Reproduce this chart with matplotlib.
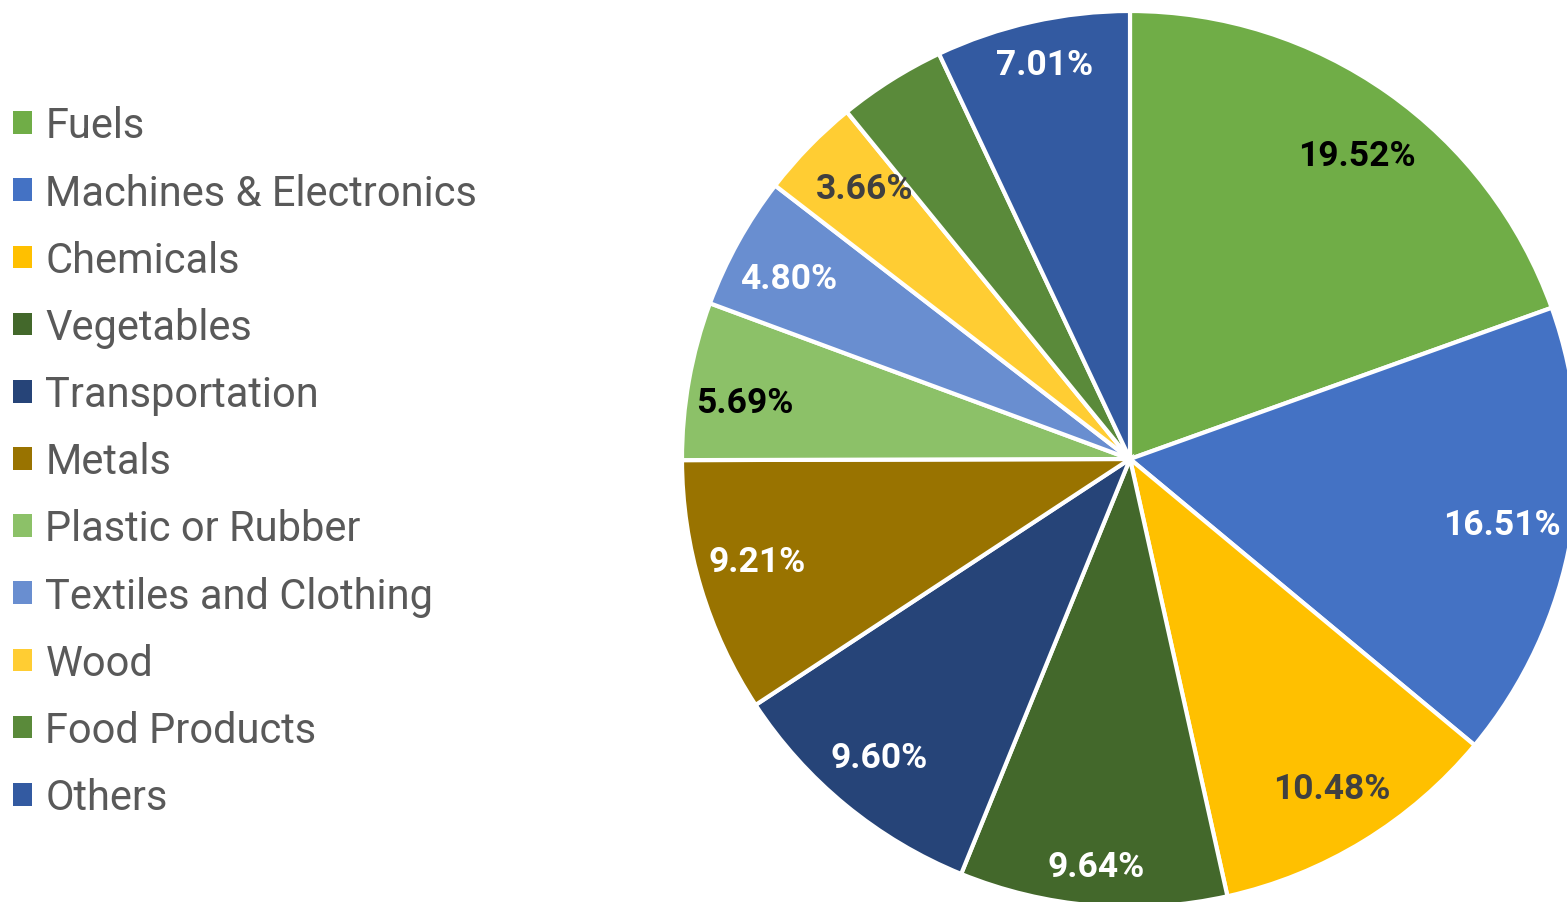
import matplotlib
matplotlib.use("Agg")
import matplotlib.pyplot as plt
import numpy as np

categories = ["Fuels", "Machines & Electronics", "Chemicals", "Vegetables", "Transportation",
              "Metals", "Plastic or Rubber", "Textiles and Clothing", "Wood", "Food Products", "Others"]
shares = [19.52, 16.51, 10.48, 9.64, 9.60, 9.21, 5.69, 4.80, 3.66, 3.88, 7.01]
show_label = [True, True, True, True, True, True, True, True, True, False, True]
colors = ["#70AD47", "#4472C4", "#FFC000", "#43682B", "#264478", "#997300",
          "#8CC168", "#698ED0", "#FFCD33", "#5A8A3A", "#335AA1"]
label_colors = ["black", "white", "#404040", "white", "white", "white",
                "black", "white", "#404040", "white", "white"]
# label placement: radial distance (fraction of radius) and angular nudge (deg)
label_dist = [0.846, 0.842, 0.862, 0.913, 0.871, 0.864, 0.868, 0.862, 0.846, 0.86, 0.90]
label_nudge = [-1.7, 0.0, 0.0, 0.0, -0.6, -1.4, 1.7, 1.1, -1.3, 0.0, -0.4]

fam = "Roboto"

fig = plt.figure(figsize=(15.67, 9.03), dpi=100)
ax = fig.add_axes([0, 0, 1, 1])

cx, cy, R = 1130, 443, 448
wedges, _, autotexts = ax.pie(shares, colors=colors, startangle=90, counterclock=False,
                              center=(cx, cy), radius=R, frame=True,
                              autopct="%.2f%%", pctdistance=0.87,
                              wedgeprops=dict(edgecolor="white", linewidth=3))
ax.set_xlim(0, 1567)
ax.set_ylim(0, 903)
ax.axis("off")
for w, t, c, s, d, n in zip(wedges, autotexts, label_colors, show_label, label_dist, label_nudge):
    ang = np.deg2rad((w.theta1 + w.theta2) / 2 + n)
    t.set_position((cx + d * R * np.cos(ang), cy + d * R * np.sin(ang)))
    t.set_color(c)
    t.set_fontsize(25.5)
    t.set_fontweight("bold")
    t.set_fontfamily(fam)
    if not s:
        t.set_text("")

leg = ax.legend(wedges, categories, loc="upper left", bbox_to_anchor=(0.0, 0.896),
                frameon=False, prop={"family": fam, "size": 30},
                handlelength=0.46, handleheight=0.46, handletextpad=0.33,
                labelspacing=0.628, borderaxespad=0, borderpad=0.3)
for t in leg.get_texts():
    t.set_color("#595959")
for h in leg.legend_handles:
    h.set_edgecolor("none")

fig.savefig("out.png", dpi=100)
